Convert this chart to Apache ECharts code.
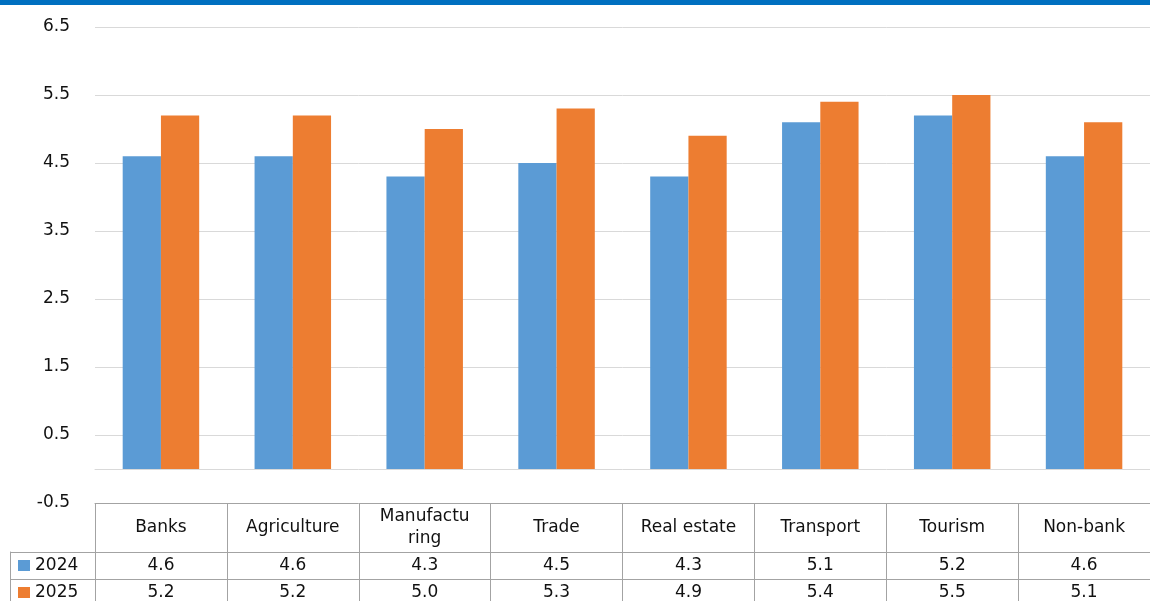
<!DOCTYPE html>
<html>
<head>
<meta charset="utf-8">
<script src="https://cdn.jsdelivr.net/npm/echarts@6/dist/echarts.min.js"></script>
<style>
  html, body { margin: 0; padding: 0; background: #ffffff; }
  #chart { width: 1150px; height: 601px; }
</style>
</head>
<body>
<div id="chart"></div>
<script>
// Sector categories and the two yearly series
const categories = ['Banks', 'Agriculture', 'Manufacturing', 'Trade', 'Real estate', 'Transport', 'Tourism', 'Non-bank'];
const headerLabels = ['Banks', 'Agriculture', 'Manufactu\nring', 'Trade', 'Real estate', 'Transport', 'Tourism', 'Non-bank'];
const seriesNames = ['2024', '2025'];
const values2024 = [4.6, 4.6, 4.3, 4.5, 4.3, 5.1, 5.2, 4.6];
const values2025 = [5.2, 5.2, 5.0, 5.3, 4.9, 5.4, 5.5, 5.1];

// Value axis range
const yMin = -0.5;
const yMax = 6.5;
const yStep = 1;

const FONT = 'DejaVu Sans';
const TEXT = '#111111';
const GRID_LINE = '#d9d9d9';
const TABLE_LINE = '#a3a3a3';
const BLUE = '#5b9bd5';
const ORANGE = '#ed7d31';

// Data table under the plot; its grids use 1 axis unit = 1 pixel
const CHART_H = 601;
const TABLE_TOP = 503;
const TABLE_H = CHART_H - TABLE_TOP;
const ROW_TOP = 552;
const ROW_H = 27;
const HEADER_MID = (ROW_TOP - TABLE_TOP) / 2;
const ROW1_MID = ROW_TOP - TABLE_TOP + ROW_H / 2;
const ROW2_MID = ROW1_MID + ROW_H;

const chart = echarts.init(document.getElementById('chart'), null, { renderer: 'canvas' });

function textRow(name, rowY, formatter) {
  return {
    name: name,
    type: 'scatter',
    xAxisIndex: 1,
    yAxisIndex: 1,
    silent: true,
    symbolSize: 1,
    itemStyle: { color: 'transparent', opacity: 1 },
    data: categories.map((c, i) => [i, rowY]),
    label: {
      show: true,
      position: 'inside',
      fontFamily: FONT,
      fontSize: 17,
      lineHeight: 22,
      color: TEXT,
      opacity: 1,
      align: 'center',
      verticalAlign: 'middle',
      formatter: formatter
    }
  };
}

function legendRow(name, top) {
  return {
    data: [name],
    orient: 'vertical',
    left: 18,
    top: top,
    padding: 0,
    itemWidth: 12,
    itemHeight: 11,
    itemGap: 0,
    icon: 'rect',
    selectedMode: false,
    textStyle: { fontFamily: FONT, fontSize: 17, color: TEXT, lineHeight: ROW_H }
  };
}

const option = {
  animation: false,
  backgroundColor: '#ffffff',
  graphic: [{
    type: 'rect',
    left: 0, top: 0,
    shape: { width: 1150, height: 5 },
    style: { fill: '#0070c0' },
    silent: true
  }],
  legend: [
    legendRow(seriesNames[0], ROW_TOP),
    legendRow(seriesNames[1], ROW_TOP + ROW_H)
  ],
  grid: [
    { left: 95, right: 0, top: 27, height: 476 },
    { left: 95, right: 0, top: TABLE_TOP, height: TABLE_H },
    { left: 10, right: 0, top: ROW_TOP, height: CHART_H - ROW_TOP }
  ],
  xAxis: [
    {
      type: 'category', gridIndex: 0, data: categories,
      axisLine: { show: true, onZero: true, lineStyle: { color: GRID_LINE, width: 1 } },
      axisTick: { show: false }, axisLabel: { show: false }, splitLine: { show: false }
    },
    {
      type: 'category', gridIndex: 1, data: categories, position: 'top',
      axisLine: { show: true, lineStyle: { color: TABLE_LINE, width: 1 } },
      axisTick: { show: false }, axisLabel: { show: false },
      splitLine: { show: true, interval: 0, lineStyle: { color: TABLE_LINE, width: 1 } }
    },
    {
      type: 'value', gridIndex: 2, min: 0, max: 1, show: false
    }
  ],
  yAxis: [
    {
      type: 'value', gridIndex: 0, min: yMin, max: yMax, interval: yStep,
      axisLine: { show: false }, axisTick: { show: false },
      axisLabel: { fontFamily: FONT, fontSize: 17, color: TEXT, margin: 25, formatter: v => v.toFixed(1) },
      splitLine: { show: true, showMinLine: false, lineStyle: { color: GRID_LINE, width: 1 } }
    },
    {
      type: 'value', gridIndex: 1, min: 0, max: TABLE_H, inverse: true, show: false
    },
    {
      type: 'value', gridIndex: 2, min: 0, max: CHART_H - ROW_TOP, interval: ROW_H, inverse: true,
      axisLine: { show: true, onZero: false, lineStyle: { color: TABLE_LINE, width: 1 } },
      axisTick: { show: false }, axisLabel: { show: false },
      splitLine: { show: true, showMaxLine: false, lineStyle: { color: TABLE_LINE, width: 1 } }
    }
  ],
  series: [
    {
      name: seriesNames[0], type: 'bar', xAxisIndex: 0, yAxisIndex: 0,
      data: values2024, itemStyle: { color: BLUE },
      barGap: '0%', barCategoryGap: '42%'
    },
    {
      name: seriesNames[1], type: 'bar', xAxisIndex: 0, yAxisIndex: 0,
      data: values2025, itemStyle: { color: ORANGE },
      barGap: '0%', barCategoryGap: '42%'
    },
    textRow('header', HEADER_MID, p => headerLabels[p.dataIndex]),
    textRow('row2024', ROW1_MID, p => values2024[p.dataIndex].toFixed(1)),
    textRow('row2025', ROW2_MID, p => values2025[p.dataIndex].toFixed(1))
  ]
};

chart.setOption(option);
</script>
</body>
</html>
